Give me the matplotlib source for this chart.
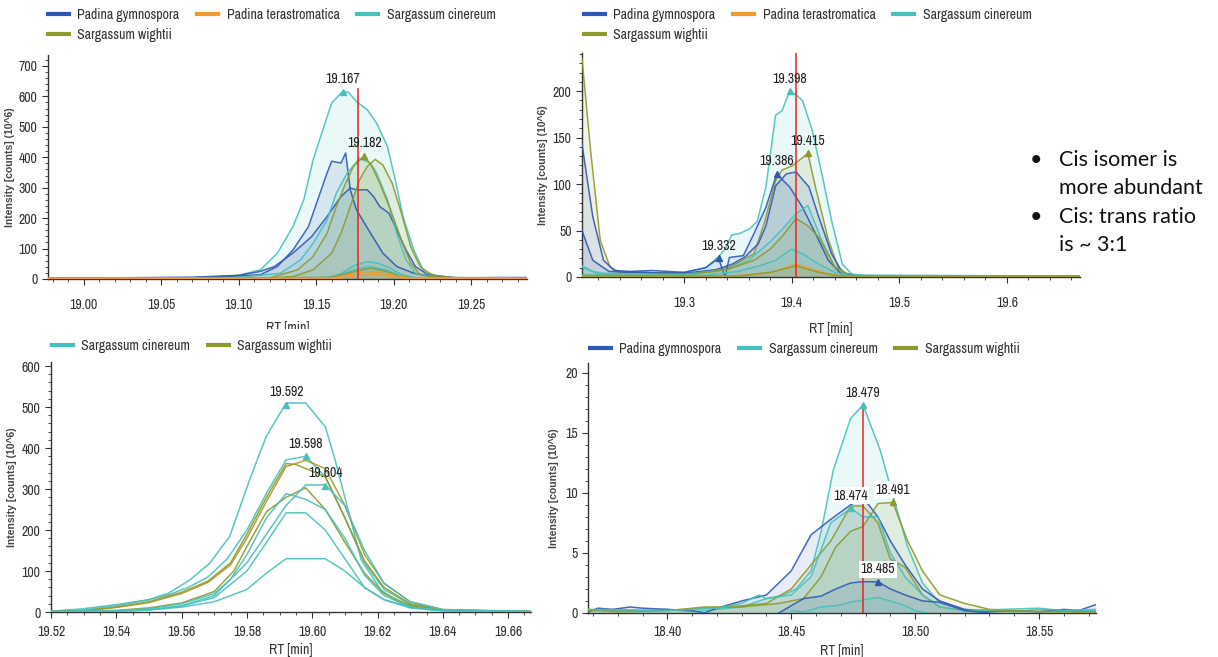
import numpy as np
import matplotlib
matplotlib.use("Agg")
import matplotlib.pyplot as plt
from matplotlib.ticker import MultipleLocator, FormatStrFormatter
from matplotlib.transforms import Bbox, TransformedBbox
from matplotlib.lines import Line2D

plt.rcParams['font.family'] = ['Archivo Narrow', 'DejaVu Sans']
plt.rcParams['font.stretch'] = 'condensed'

BLUE = '#2f58b4'
ORANGE = '#f29a2e'
CYAN = '#48c0bc'
OLIVE = '#8e9a2c'

# ---------------- top-left panel (RT 18.98 - 19.29) ----------------
tl_cin1_x = [18.977, 19.05, 19.08, 19.10, 19.114, 19.125, 19.135, 19.142, 19.148, 19.155, 19.160, 19.167, 19.171,
             19.176, 19.183, 19.189, 19.196, 19.201, 19.206, 19.213, 19.219, 19.228, 19.236, 19.26, 19.286]
tl_cin1_y = [2, 2, 5, 12, 30, 85, 172, 260, 391, 501, 578, 616, 613, 583, 556, 512, 435, 326, 205, 95, 30, 8, 3, 2, 2]
tl_gym1_x = [18.977, 19.07, 19.10, 19.114, 19.125, 19.135, 19.145, 19.151, 19.157, 19.160, 19.166, 19.169, 19.172,
             19.176, 19.185, 19.193, 19.202, 19.213, 19.228, 19.26, 19.286]
tl_gym1_y = [2, 4, 10, 14, 41, 95, 172, 260, 348, 387, 381, 414, 293, 227, 151, 85, 41, 19, 6, 3, 4]
tl_gym2_x = [18.977, 19.07, 19.10, 19.114, 19.123, 19.135, 19.147, 19.157, 19.166, 19.172, 19.176, 19.183, 19.187,
             19.191, 19.197, 19.202, 19.208, 19.214, 19.222, 19.24, 19.27, 19.286]
tl_gym2_y = [2, 6, 12, 25, 41, 85, 139, 205, 271, 299, 293, 293, 271, 238, 216, 161, 95, 41, 14, 4, 5, 5]
tl_cin2_x = [18.977, 19.10, 19.127, 19.140, 19.148, 19.157, 19.163, 19.170, 19.178, 19.185, 19.189, 19.196, 19.202,
             19.208, 19.214, 19.23, 19.286]
tl_cin2_y = [2, 5, 19, 63, 117, 194, 282, 348, 397, 381, 348, 260, 150, 63, 19, 3, 2]
tl_wig1_x = [18.977, 19.12, 19.138, 19.148, 19.157, 19.163, 19.169, 19.174, 19.181, 19.186, 19.191, 19.198, 19.205,
             19.211, 19.217, 19.23, 19.286]
tl_wig1_y = [2, 4, 30, 74, 150, 238, 315, 370, 404, 370, 315, 227, 128, 52, 14, 3, 2]
tl_wig2_x = [18.977, 19.12, 19.135, 19.148, 19.160, 19.166, 19.172, 19.178, 19.183, 19.188, 19.193, 19.199, 19.205,
             19.211, 19.217, 19.224, 19.24, 19.286]
tl_wig2_y = [2, 3, 8, 30, 85, 150, 238, 326, 370, 393, 375, 315, 216, 106, 41, 14, 3, 2]
tl_cin3_x = [18.977, 19.155, 19.165, 19.175, 19.183, 19.190, 19.198, 19.205, 19.213, 19.286]
tl_cin3_y = [2, 3, 15, 45, 57, 52, 35, 15, 4, 2]
tl_cin4_x = [18.977, 19.160, 19.175, 19.184, 19.195, 19.205, 19.215, 19.286]
tl_cin4_y = [2, 5, 30, 42, 30, 10, 3, 2]
tl_wig3_x = [18.977, 19.160, 19.175, 19.185, 19.195, 19.205, 19.215, 19.286]
tl_wig3_y = [2, 5, 25, 36, 25, 8, 2, 2]
tl_ter1_x = [18.977, 19.160, 19.172, 19.182, 19.190, 19.200, 19.210, 19.25, 19.27, 19.286]
tl_ter1_y = [2, 3, 15, 24, 22, 12, 3, 3, 4, 2]
tl_ter2_x = [18.977, 19.165, 19.178, 19.188, 19.198, 19.208, 19.286]
tl_ter2_y = [1, 2, 12, 15, 9, 2, 1]
tl_peaks = [(19.167, 616, CYAN, '19.167'), (19.181, 404, OLIVE, '19.182')]
tl_marker_x = 19.177
tl_marker_top = 625

# ---------------- top-right panel (RT 19.21 - 19.67) ----------------
tr_cin1_x = [19.205, 19.215, 19.225, 19.24, 19.26, 19.28, 19.30, 19.32, 19.332, 19.338, 19.344, 19.352, 19.361,
             19.368, 19.376, 19.385, 19.391, 19.398, 19.404, 19.41, 19.419, 19.428, 19.437, 19.447, 19.456, 19.47, 19.668]
tr_cin1_y = [12, 6, 4, 4, 5, 4, 5, 10, 22, 30, 45, 47, 52, 60, 97, 174, 179, 200, 196, 190, 158, 111, 61, 14, 3, 2, 1]
tr_wig1_x = [19.205, 19.213, 19.222, 19.231, 19.24, 19.26, 19.30, 19.33, 19.345, 19.365, 19.375, 19.385, 19.391,
             19.401, 19.415, 19.422, 19.434, 19.443, 19.452, 19.47, 19.668]
tr_wig1_y = [235, 136, 39, 11, 5, 5, 4, 6, 12, 25, 60, 104, 115, 120, 133, 97, 40, 11, 2, 1, 1]
tr_gym1_x = [19.205, 19.215, 19.225, 19.235, 19.25, 19.27, 19.30, 19.32, 19.332, 19.338, 19.342, 19.355, 19.365,
             19.376, 19.386, 19.398, 19.41, 19.422, 19.434, 19.447, 19.46, 19.48, 19.668]
tr_gym1_y = [143, 65, 18, 7, 6, 7, 5, 10, 20, 0, 21, 23, 47, 75, 111, 97, 75, 47, 18, 2, 1, 1, 1]
tr_gym2_x = [19.205, 19.215, 19.23, 19.25, 19.30, 19.33, 19.345, 19.357, 19.369, 19.376, 19.385, 19.395, 19.404,
             19.416, 19.425, 19.437, 19.447, 19.46, 19.668]
tr_gym2_y = [50, 18, 6, 5, 4, 8, 14, 22, 36, 55, 98, 111, 113, 97, 65, 25, 5, 1, 1]
tr_cin2_x = [19.205, 19.22, 19.30, 19.34, 19.36, 19.38, 19.39, 19.404, 19.415, 19.428, 19.44, 19.452, 19.47, 19.668]
tr_cin2_y = [11, 3, 3, 8, 18, 38, 50, 68, 77, 39, 11, 2, 1, 1]
tr_wig2_x = [19.205, 19.30, 19.34, 19.365, 19.38, 19.392, 19.404, 19.415, 19.425, 19.44, 19.455, 19.668]
tr_wig2_y = [2, 2, 8, 18, 30, 45, 63, 55, 43, 11, 1, 1]
tr_cin3_x = [19.205, 19.32, 19.35, 19.37, 19.385, 19.40, 19.41, 19.425, 19.44, 19.455, 19.668]
tr_cin3_y = [2, 2, 6, 12, 18, 30, 25, 14, 5, 1, 1]
tr_ter1_x = [19.205, 19.34, 19.37, 19.385, 19.404, 19.42, 19.435, 19.45, 19.668]
tr_ter1_y = [1, 1, 3, 6, 14, 8, 3, 1, 1]
tr_wig3_x = [19.205, 19.35, 19.38, 19.404, 19.425, 19.445, 19.668]
tr_wig3_y = [1, 1, 5, 12, 5, 1, 1]
tr_peaks = [(19.398, 200, CYAN, '19.398'), (19.415, 133, OLIVE, '19.415'),
            (19.386, 111, BLUE, '19.386'), (19.332, 20, BLUE, '19.332')]
tr_marker_x = 19.404
tr_marker_top = 241

# ---------------- bottom-left panel (RT 19.52 - 19.67) ----------------
bl_cin1_x = [19.52, 19.53, 19.54, 19.55, 19.556, 19.5625, 19.5686, 19.5747, 19.5808, 19.5859, 19.592, 19.598,
             19.604, 19.607, 19.611, 19.615, 19.621, 19.627, 19.635, 19.645, 19.667]
bl_cin1_y = [2, 8, 18, 30, 46, 78, 119, 184, 322, 428, 510, 510, 452, 371, 249, 127, 54, 22, 6, 2, 1]
bl_cin2_x = [19.52, 19.53, 19.54, 19.55, 19.556, 19.562, 19.568, 19.574, 19.58, 19.586, 19.592, 19.598, 19.604,
             19.61, 19.616, 19.622, 19.63, 19.64, 19.667]
bl_cin2_y = [1, 5, 15, 30, 42, 60, 85, 130, 200, 290, 371, 380, 330, 230, 120, 55, 18, 4, 1]
bl_wig1_x = [19.52, 19.53, 19.54, 19.55, 19.56, 19.568, 19.575, 19.58, 19.586, 19.592, 19.595, 19.598, 19.604,
             19.61, 19.616, 19.622, 19.63, 19.64, 19.667]
bl_wig1_y = [1, 3, 12, 25, 48, 75, 120, 190, 280, 362, 360, 350, 330, 230, 125, 60, 20, 5, 1]
bl_wig2_x = [19.52, 19.53, 19.54, 19.55, 19.56, 19.568, 19.575, 19.58, 19.586, 19.592, 19.598, 19.604, 19.61,
             19.616, 19.622, 19.63, 19.64, 19.667]
bl_wig2_y = [1, 3, 11, 23, 45, 72, 115, 180, 270, 355, 370, 350, 260, 140, 70, 25, 6, 1]
bl_wig3_x = [19.52, 19.54, 19.55, 19.56, 19.57, 19.576, 19.58, 19.586, 19.592, 19.598, 19.604, 19.61, 19.616,
             19.622, 19.63, 19.64, 19.667]
bl_wig3_y = [1, 4, 10, 22, 50, 100, 160, 245, 280, 303, 250, 170, 95, 45, 15, 4, 1]
bl_cin3_x = [19.52, 19.54, 19.55, 19.56, 19.57, 19.58, 19.586, 19.592, 19.598, 19.604, 19.61, 19.616, 19.622,
             19.63, 19.64, 19.667]
bl_cin3_y = [1, 2, 5, 15, 40, 120, 190, 260, 310, 310, 260, 150, 70, 25, 6, 1]
bl_cin4_x = [19.52, 19.54, 19.55, 19.56, 19.57, 19.575, 19.58, 19.586, 19.592, 19.598, 19.604, 19.61, 19.616,
             19.622, 19.63, 19.64, 19.667]
bl_cin4_y = [1, 3, 8, 20, 45, 80, 140, 230, 289, 275, 250, 180, 90, 40, 12, 3, 1]
bl_cin5_x = [19.52, 19.54, 19.55, 19.56, 19.57, 19.58, 19.586, 19.592, 19.598, 19.604, 19.61, 19.616, 19.622,
             19.63, 19.64, 19.667]
bl_cin5_y = [1, 2, 5, 15, 35, 100, 170, 242, 242, 200, 130, 60, 30, 10, 3, 1]
bl_cin6_x = [19.52, 19.54, 19.55, 19.56, 19.57, 19.58, 19.586, 19.592, 19.598, 19.604, 19.61, 19.616, 19.622,
             19.63, 19.64, 19.667]
bl_cin6_y = [1, 2, 5, 12, 25, 55, 95, 130, 130, 130, 100, 60, 30, 12, 4, 1]
bl_peaks = [(19.592, 505, CYAN, '19.592'), (19.598, 380, CYAN, '19.598'), (19.604, 308, CYAN, '19.604')]

# ---------------- bottom-right panel (RT 18.37 - 18.57) ----------------
br_gym1_x = [18.368, 18.372, 18.378, 18.385, 18.39, 18.40, 18.41, 18.415, 18.42, 18.43, 18.44, 18.45, 18.458,
             18.466, 18.474, 18.479, 18.485, 18.49, 18.496, 18.503, 18.51, 18.52, 18.53, 18.54, 18.55, 18.56,
             18.566, 18.573]
br_gym1_y = [0.1, 0.4, 0.3, 0.5, 0.4, 0.3, 0.2, 0.0, 0.4, 1.0, 1.5, 3.5, 6.5, 7.8, 9.0, 9.6, 8.0, 6.0, 4.0, 2.0,
             1.0, 0.3, 0.1, 0.2, 0.1, 0.3, 0.2, 0.7]
br_cin1_x = [18.368, 18.38, 18.39, 18.40, 18.41, 18.42, 18.43, 18.44, 18.447, 18.452, 18.458, 18.462, 18.467,
             18.474, 18.479, 18.486, 18.491, 18.497, 18.503, 18.51, 18.52, 18.53, 18.54, 18.55, 18.56, 18.573]
br_cin1_y = [0.2, 0.3, 0.2, 0.3, 0.1, 0.3, 0.5, 1.2, 1.5, 2.0, 3.5, 6.7, 11.9, 16.2, 17.3, 13.5, 9.8, 5.5, 2.5,
             0.8, 0.3, 0.2, 0.1, 0.3, 0.2, 0.2]
br_wig1_x = [18.368, 18.38, 18.40, 18.415, 18.43, 18.445, 18.455, 18.462, 18.468, 18.474, 18.479, 18.485, 18.491,
             18.497, 18.503, 18.51, 18.52, 18.53, 18.55, 18.573]
br_wig1_y = [0.3, 0.1, 0.2, 0.5, 0.5, 0.8, 1.2, 3.0, 5.5, 6.8, 7.2, 9.1, 9.2, 6.0, 3.5, 1.5, 0.8, 0.3, 0.1, 0.1]
br_wig2_x = [18.368, 18.40, 18.43, 18.44, 18.45, 18.458, 18.466, 18.474, 18.479, 18.485, 18.49, 18.496, 18.503,
             18.51, 18.52, 18.573]
br_wig2_y = [0.2, 0.2, 0.6, 0.8, 2.0, 4.0, 6.0, 8.9, 8.9, 7.5, 4.5, 3.8, 1.5, 0.5, 0.2, 0.1]
br_cin2_x = [18.368, 18.40, 18.42, 18.43, 18.437, 18.44, 18.45, 18.458, 18.466, 18.474, 18.479, 18.485, 18.49,
             18.496, 18.503, 18.51, 18.52, 18.55, 18.56, 18.573]
br_cin2_y = [0.3, 0.2, 0.4, 0.8, 1.5, 1.2, 1.5, 3.0, 7.5, 8.7, 8.0, 8.0, 5.0, 3.0, 1.5, 0.5, 0.2, 0.4, 0.2, 0.3]
br_gym2_x = [18.445, 18.455, 18.462, 18.468, 18.474, 18.479, 18.485, 18.49, 18.496, 18.503, 18.51, 18.52, 18.53]
br_gym2_y = [0.0, 1.2, 1.4, 2.0, 2.5, 2.6, 2.6, 2.0, 1.5, 1.0, 0.9, 0.2, 0.0]
br_cin3_x = [18.45, 18.455, 18.462, 18.468, 18.474, 18.485, 18.49, 18.496, 18.50, 18.505]
br_cin3_y = [0.2, 0.1, 0.5, 0.6, 0.9, 1.3, 1.0, 0.6, 0.2, 0.0]
br_peaks = [(18.479, 17.3, CYAN, '18.479'), (18.474, 8.7, CYAN, '18.474'),
            (18.491, 9.2, OLIVE, '18.491'), (18.485, 2.6, BLUE, '18.485')]
br_marker_x = 18.479
br_marker_top = 17.3

notes = ['Cis isomer is', 'more abundant', 'Cis: trans ratio', 'is ~ 3:1']

W, H = 1218, 657
fig = plt.figure(figsize=(W / 100, H / 100), dpi=100)
fig.patch.set_facecolor('white')


def px_axes(l, t, r, b):
    return fig.add_axes([l / W, 1 - b / H, (r - l) / W, (b - t) / H])


def style(ax, xlim, ylim, xmaj, xmin, ymaj, ymin, ylab_x, tpad, lpad):
    ax.set_xlim(*xlim)
    ax.set_ylim(*ylim)
    ax.xaxis.set_major_locator(MultipleLocator(xmaj))
    ax.xaxis.set_minor_locator(MultipleLocator(xmin))
    ax.yaxis.set_major_locator(MultipleLocator(ymaj))
    ax.yaxis.set_minor_locator(MultipleLocator(ymin))
    for s in ['top', 'right']:
        ax.spines[s].set_visible(False)
    for s in ['left', 'bottom']:
        ax.spines[s].set_color('#333333')
        ax.spines[s].set_linewidth(1.0)
    ax.tick_params(which='both', direction='out', colors='#333333', labelsize=10, labelcolor='#333333')
    ax.tick_params(which='major', length=4)
    ax.tick_params(which='minor', length=2)
    ax.tick_params(axis='x', which='major', pad=tpad)
    ax.set_xlabel('RT [min]', fontsize=10, color='#333333', labelpad=lpad)
    ax.set_ylabel('Intensity [counts] (10^6)', fontsize=7.5, fontweight='bold', color='#444444',
                  family=['Liberation Sans', 'DejaVu Sans'], stretch='normal')
    ax.yaxis.set_label_coords(ylab_x, 0.5)


def draw(ax, traces, fill):
    for x, y, c in traces:
        ax.plot(x, y, color=c, lw=1.1, alpha=0.9, zorder=3)
        if fill:
            ax.fill_between(x, y, 0, color=c, alpha=0.11, lw=0, zorder=2)


def peaks(ax, pk, box=False):
    for x, y, c, lab in pk:
        ax.plot([x], [y], marker='^', ms=5, color=c, zorder=5, clip_on=False)
        bb = dict(boxstyle='square,pad=0.1', fc='white', ec='none') if box else None
        ax.annotate(lab, (x, y), xytext=(0, 4), textcoords='offset points', ha='center', va='bottom',
                    fontsize=10, color='#222222', bbox=bb, zorder=6)


def legend(ax, names, colors, ncol, x0, y0, order=None):
    handles = [Line2D([], [], color=c, lw=3) for c in colors]
    if order is not None:
        handles = [handles[i] for i in order]
        names = [names[i] for i in order]
    leg = ax.legend(handles, names, ncol=ncol, loc='upper left', bbox_to_anchor=(x0 / W, 1 - y0 / H),
                    bbox_transform=fig.transFigure, frameon=False, fontsize=10, handlelength=1.5,
                    handletextpad=0.6, columnspacing=1.3, labelspacing=0.45, borderaxespad=0, borderpad=0)
    for t in leg.get_texts():
        t.set_color('#333333')
    return leg


names4 = ['Padina gymnospora', 'Padina terastromatica', 'Sargassum cinereum', 'Sargassum wightii']
colors4 = [BLUE, ORANGE, CYAN, OLIVE]

# top-left
ax1 = px_axes(48, 55, 527, 279)
draw(ax1, [(tl_cin1_x, tl_cin1_y, CYAN), (tl_gym1_x, tl_gym1_y, BLUE), (tl_gym2_x, tl_gym2_y, BLUE),
           (tl_cin2_x, tl_cin2_y, CYAN), (tl_wig1_x, tl_wig1_y, OLIVE), (tl_wig2_x, tl_wig2_y, OLIVE),
           (tl_cin3_x, tl_cin3_y, CYAN), (tl_cin4_x, tl_cin4_y, CYAN), (tl_wig3_x, tl_wig3_y, OLIVE),
           (tl_ter1_x, tl_ter1_y, ORANGE), (tl_ter2_x, tl_ter2_y, ORANGE)], True)
ax1.plot([tl_marker_x, tl_marker_x], [0, tl_marker_top], color='#e8261f', lw=1.1, zorder=4)
peaks(ax1, tl_peaks)
style(ax1, (18.977, 19.286), (0, 736), 0.05, 0.01, 100, 20, -0.069, 10, 6)
ax1.xaxis.set_major_formatter(FormatStrFormatter('%.2f'))
legend(ax1, names4, colors4, 3, 48, 8, order=[0, 3, 1, 2])
# this x label is cut in half in the original screenshot
ax1.xaxis.label.set_clip_box(TransformedBbox(Bbox([[0, 1 - 329 / H], [0.5, 1]]), fig.transFigure))
ax1.xaxis.label.set_clip_on(True)

# top-right
ax2 = px_axes(582, 53, 1080, 277)
draw(ax2, [(tr_cin1_x, tr_cin1_y, CYAN), (tr_wig1_x, tr_wig1_y, OLIVE), (tr_gym1_x, tr_gym1_y, BLUE),
           (tr_gym2_x, tr_gym2_y, BLUE), (tr_cin2_x, tr_cin2_y, CYAN), (tr_wig2_x, tr_wig2_y, OLIVE),
           (tr_cin3_x, tr_cin3_y, CYAN), (tr_ter1_x, tr_ter1_y, ORANGE), (tr_wig3_x, tr_wig3_y, OLIVE)], True)
ax2.plot([tr_marker_x, tr_marker_x], [0, tr_marker_top], color='#e8261f', lw=1.1, zorder=4)
peaks(ax2, tr_peaks)
style(ax2, (19.205, 19.668), (0, 241), 0.1, 0.02, 50, 10, -0.068, 10, 8)
ax2.xaxis.set_major_formatter(FormatStrFormatter('%.1f'))
legend(ax2, names4, colors4, 3, 584, 8, order=[0, 3, 1, 2])

# bottom-left
ax3 = px_axes(51, 362, 531, 612)
draw(ax3, [(bl_cin1_x, bl_cin1_y, CYAN), (bl_cin2_x, bl_cin2_y, CYAN), (bl_wig1_x, bl_wig1_y, OLIVE),
           (bl_wig2_x, bl_wig2_y, '#a89a2a'), (bl_wig3_x, bl_wig3_y, OLIVE), (bl_cin3_x, bl_cin3_y, CYAN),
           (bl_cin4_x, bl_cin4_y, CYAN), (bl_cin5_x, bl_cin5_y, CYAN), (bl_cin6_x, bl_cin6_y, CYAN)], False)
peaks(ax3, bl_peaks)
style(ax3, (19.52, 19.667), (0, 610), 0.02, 0.005, 100, 20, -0.071, 5, 3)
ax3.xaxis.set_major_formatter(FormatStrFormatter('%.2f'))
legend(ax3, ['Sargassum cinereum', 'Sargassum wightii'], [CYAN, OLIVE], 2, 52, 339)

# bottom-right
ax4 = px_axes(588, 363, 1096, 613)
draw(ax4, [(br_cin1_x, br_cin1_y, CYAN), (br_gym1_x, br_gym1_y, BLUE), (br_wig1_x, br_wig1_y, OLIVE),
           (br_wig2_x, br_wig2_y, OLIVE), (br_cin2_x, br_cin2_y, CYAN), (br_gym2_x, br_gym2_y, BLUE),
           (br_cin3_x, br_cin3_y, CYAN)], True)
ax4.plot([br_marker_x, br_marker_x], [0, br_marker_top], color='#e8261f', lw=1.1, zorder=4)
peaks(ax4, br_peaks, box=True)
style(ax4, (18.368, 18.573), (0, 20.8), 0.05, 0.01, 5, 1, -0.058, 5, 3)
ax4.xaxis.set_major_formatter(FormatStrFormatter('%.2f'))
legend(ax4, ['Padina gymnospora', 'Sargassum cinereum', 'Sargassum wightii'], [BLUE, CYAN, OLIVE], 3, 590, 342)

# side notes
ys = [160, 188, 217, 245]
for i, (t, y) in enumerate(zip(notes, ys)):
    if i in (0, 2):
        fig.text(1030 / W, 1 - y / H, '\u2022', fontsize=15.5, va='center', ha='left',
                 family=['Lato', 'DejaVu Sans'], color='#111111', stretch='normal')
    fig.text(1059 / W, 1 - y / H, t, fontsize=15.5, va='center', ha='left',
             family=['Lato', 'DejaVu Sans'], color='#111111', stretch='normal')

fig.savefig('out.png', dpi=100, facecolor='white')
